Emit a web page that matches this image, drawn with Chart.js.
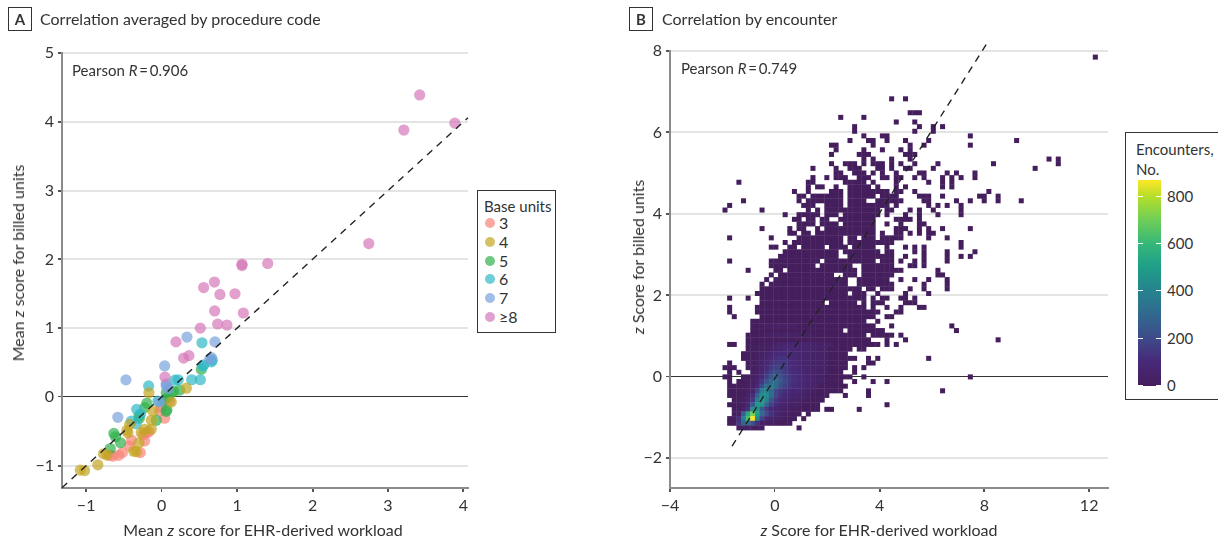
<!DOCTYPE html>
<html>
<head>
<meta charset="utf-8">
<title>Correlation of EHR-derived workload and billed units</title>
<script src="https://cdn.jsdelivr.net/npm/chart.js@4"></script>
<style>
    html, body { margin: 0; padding: 0; background: #fff; overflow: hidden; }
    body { width: 1218px; height: 541px; position: relative; font-family: Lato, "Noto Sans", sans-serif; font-size: 16px; color: #333; }
    canvas { position: absolute; top: 0; }
    .txt { position: absolute; white-space: nowrap; line-height: 1; }
    .small { font-size: 15px; }
    .mid { transform: translate(-50%, -50%); }
    .rot { transform: translate(-50%, -50%) rotate(-90deg); }
    .tag { position: absolute; top: 7px; width: 22px; height: 22px; border: 1px solid #333; text-align: center; line-height: 22px; font-weight: 700; font-size: 15px; }
    .box { position: absolute; border: 1px solid #333; background: #fff; box-sizing: border-box; }
    .dot { position: absolute; width: 10px; height: 10px; border-radius: 50%; }
</style>
</head>
<body>
<canvas id="chartA"></canvas>
<canvas id="chartB"></canvas>

<div class="tag" style="left:8px">A</div>
<div class="txt" style="left:40px;top:11px">Correlation averaged by procedure code</div>
<div class="tag" style="left:629px">B</div>
<div class="txt" style="left:662px;top:11px">Correlation by encounter</div>

<div class="txt small" style="left:72px;top:63px">Pearson <i>R</i>&thinsp;=&thinsp;0.906</div>
<div class="txt small" style="left:681px;top:61px">Pearson <i>R</i>&thinsp;=&thinsp;0.749</div>

<div class="txt mid" style="left:263px;top:530px">Mean <i>z</i> score for EHR-derived workload</div>
<div class="txt rot" style="left:18px;top:263px">Mean <i>z</i> score for billed units</div>
<div class="txt mid" style="left:879px;top:530px"><i>z</i> Score for EHR-derived workload</div>
<div class="txt rot" style="left:638px;top:257px"><i>z</i> Score for billed units</div>

<div class="box" id="unitLegend" style="left:477px;top:190px;width:79px;height:143px"></div>
<div class="box" id="barLegend" style="left:1125px;top:132px;width:100px;height:268px"></div>

<script>
// Panel A, mean z scores by procedure code as [workload, billed]
const base3 = [[-0.283,-0.81],[-0.52,-0.81],[-0.57,-0.85],[-0.645,-0.86],[-0.69,-0.85],[-0.424,-0.714],[-0.40,-0.627],[-0.225,-0.64],[-0.2,-0.52],[-0.168,-0.505],[-0.24,-0.55],[0.04,-0.31],[-0.026,-0.204],[0.106,-0.058],[0.0,-0.15]];
const base4 = [[-1.078,-1.064],[-1.02,-1.07],[-0.845,-0.987],[-0.77,-0.826],[-0.725,-0.845],[-0.335,-0.797],[-0.37,-0.79],[-0.30,-0.666],[-0.447,-0.52],[-0.46,-0.486],[-0.424,-0.40],[-0.137,-0.34],[-0.137,-0.47],[-0.225,-0.47],[-0.27,-0.52],[-0.115,-0.204],[-0.168,0.06],[0.128,-0.073],[0.328,0.127]];
const base5 = [[0.526,0.40],[0.24,0.10],[0.128,0.06],[0.062,0.06],[0.08,-0.01],[0.07,-0.19],[0.06,-0.21],[-0.07,-0.34],[-0.195,-0.09],[-0.225,-0.155],[-0.30,-0.277],[-0.295,-0.31],[-0.633,-0.53],[-0.61,-0.58],[-0.544,-0.666],[-0.68,-0.75],[0.16,0.08],[0.03,-0.05]];
const base6 = [[0.535,0.787],[0.672,0.535],[0.557,0.466],[0.398,0.25],[0.513,0.25],[0.176,0.243],[0.22,0.25],[-0.172,0.16],[-0.33,-0.18],[-0.40,-0.35],[-0.336,-0.39],[-0.28,-0.25],[-0.05,-0.06],[0.548,0.45],[0.66,0.51]];
const base7 = [[0.336,0.87],[0.707,0.80],[0.04,0.45],[0.66,0.57],[-0.473,0.248],[-0.58,-0.296],[0.637,0.55],[0.06,0.19],[-0.027,-0.07],[0.062,0.16],[0.09,0.12]];
const base8 = [[3.42,4.39],[3.21,3.88],[3.886,3.98],[2.745,2.23],[1.065,1.93],[1.065,1.91],[1.406,1.94],[0.70,1.67],[0.557,1.59],[0.773,1.49],[0.972,1.50],[0.703,1.25],[1.083,1.22],[0.743,1.06],[0.866,1.045],[0.513,1.0],[0.19,0.80],[0.362,0.60],[0.292,0.565],[0.044,0.29]];
const unitLabels = ["3", "4", "5", "6", "7", "≥8"];
const unitColors = ["rgba(248,131,119,0.7)", "rgba(195,165,34,0.7)", "rgba(48,176,76,0.7)", "rgba(48,184,198,0.7)", "rgba(119,162,219,0.7)", "rgba(212,119,184,0.7)"];
const unitXTicks = [-1, 0, 1, 2, 3, 4];
const unitYTicks = [-1, 0, 1, 2, 3, 4, 5];
const unitDiagonal = [[-1.32, -1.32], [4.06, 4.06]];

// Panel B, occupied histogram bins: one string per row (top row first), columns as runs
const binRuns = [
    "80", "", "", "", "", "", "", "", "",
    "36 39", "", "",
    "40-42",
    "25 30",
    "37 41",
    "28 42 45 47",
    "28 41 45",
    "30 34-35 53",
    "27 31-32 35 39 44 63",
    "23-24 32 40 43 53",
    "24 30 34 38 40",
    "23 29-31 39-41",
    "30 32 36 40 70 72",
    "23 26-28 30 32-34 36 38 41 46 58 72",
    "19 24 27-29 33-34 36 39-40 45 67",
    "24-25 28-30 32 34 37 42-43 48 50 54",
    "19 22 24-26 29-31 34-35 37-38 41 43 47 49 51 54",
    "3 18-19 26-30 32 37 44 47 49",
    "18 20-21 24 27-31 33 37 39 47 49",
    "15 18 23-25 27-35 37-38 41 57",
    "16-17 19-25 27-32 34-37 42-44 47 55-56 59",
    "4 16 18-25 27-30 33-38 43-44 50 53 56 59 64",
    "1 17-19 22-25 27-35 37 44 46 48 51",
    "0 8 18 20 22-33 35-36 40 42 45 51",
    "13 16-20 22-24 26-33 35 39 42 46 51",
    "15-16 18-19 21-22 25-32 37-40 42",
    "16-19 21-24 26-32 35 38 42-43",
    "8 14 16-17 20 22-32 37-39 42 44 47 53",
    "14-15 17-18 20-32 34 37-38 40 42 44-45",
    "1 10 16-25 27-28 30-32 34-38 44 48",
    "13 15-25 27-36 51",
    "10-11 14-15 17-21 23-26 28-32 35 39 41 43 51",
    "13-24 26-33 35-36 41 43 48 54",
    "12-24 27-36 39 43 48 51 53",
    "1 10-20 22-32 34-36 38 41 43 48",
    "10-19 21-27 30-36 40-41 43",
    "5 11-12 14-28 30-36 37-38 46",
    "10 12-23 26-28 30-36 46-47",
    "9 11-26 29-35 38 41 44 48",
    "8 10-26 29-36 43 48",
    "8-29 31-32 34-36 40 43 48",
    "7-26 28-30 33 39 44",
    "1 5 8-30 32 34-35 38-39 41",
    "8-21 23-28 30 32-34 39-41",
    "1 7-30 32 35 38 42-43",
    "1 7-33 37-38",
    "2 8-32 35-36",
    "6-30 33",
    "6-32 36 49",
    "6-25 27-34 50",
    "5-30 32-36 38",
    "5-31 35 39 59",
    "1-2 5-33 35 37",
    "5-27 29-30",
    "4-26",
    "4-28 31 33 44",
    "1 5-26 31-32",
    "0-2 5-26 28 30",
    "1 3 6-25 28",
    "0-1 4-27 30 53",
    "1 3-25 28 32 35",
    "1-26",
    "1-25 31 47",
    "1-22 26 31",
    "2-21",
    "1-20 35",
    "2-20 22-23 29",
    "2-16 18",
    "1-15 17",
    "1-14",
    "3-8 16"
];
// Encounters in the dense core: [row, first column, counts...]
const coreBins = [
    [58, 9, 20, 25, 30, 35, 35, 30, 25],
    [60, 9, 25, 30, 40, 45, 50, 45, 40, 35, 30, 25],
    [62, 8, 15, 20, 30, 40, 50, 60, 70, 75, 70, 65, 60, 50, 45, 40, 35, 30],
    [63, 7, 12, 18, 25, 35, 50, 65, 85, 90, 85, 75, 65, 55, 50, 40, 35, 30],
    [64, 5, 12, 15, 20, 30, 50, 75, 95, 105, 105, 95, 80, 70, 60, 50, 45, 40, 35, 30],
    [65, 5, 12, 15, 20, 35, 65, 95, 120, 130, 125, 105, 90, 75, 60, 50, 45, 40, 35, 30],
    [66, 5, 12, 18, 25, 45, 80, 120, 145, 150, 140, 115, 95, 80, 65, 55, 45, 40, 35, 30],
    [67, 5, 12, 18, 30, 60, 105, 150, 175, 170, 145, 120, 100, 85, 70, 55, 50, 40, 35, 30],
    [68, 6, 20, 40, 75, 130, 185, 215, 195, 160, 130, 110, 90, 75, 60, 50, 40, 35, 30],
    [69, 6, 25, 50, 100, 165, 240, 275, 225, 175, 145, 120, 100, 85, 65, 55, 45, 35],
    [70, 5, 15, 30, 70, 140, 230, 300, 320, 250, 190, 150, 125, 100, 85, 70, 60, 45, 35],
    [71, 5, 18, 40, 100, 200, 320, 370, 310, 225, 170, 135, 110, 90, 85, 65, 50, 40],
    [72, 4, 12, 25, 60, 180, 380, 400, 300, 200, 150, 120, 95, 75, 90, 55, 40, 30],
    [73, 4, 15, 35, 110, 280, 430, 440, 320, 190, 130, 100, 80, 60, 50, 40, 30],
    [74, 3, 10, 20, 55, 150, 380, 480, 400, 240, 150, 95, 75, 55, 45, 35, 25],
    [75, 3, 12, 30, 90, 250, 470, 470, 280, 170, 110, 75, 55, 45, 35, 25],
    [76, 3, 15, 45, 120, 450, 480, 250, 160, 100, 70, 55, 40, 30, 20],
    [77, 2, 10, 30, 280, 540, 720, 500, 300, 200, 120, 80, 50, 30, 20],
    [78, 2, 10, 120, 380, 620, 870, 420, 180, 100, 60, 40, 25, 15],
    [79, 2, 12, 150, 300, 320, 220, 120, 30, 25, 20, 12],
    [80, 3, 20, 25, 25, 20, 10, 5]
];
const lowCount = 5;
const colorStops = [[0, "#451f5c"], [100, "#482878"], [200, "#3e4a89"], [300, "#31688e"], [400, "#26828e"], [500, "#1f9e89"], [600, "#35b779"], [700, "#6ece58"], [800, "#b5de2b"], [870, "#fde725"]];
const colorTicks = [0, 200, 400, 600, 800];
const encXTicks = [-4, 0, 4, 8, 12];
const encYTicks = [-2, 0, 2, 4, 6, 8];
const encDiagonal = [[-1.63, -1.7], [8.14, 8.23]];

// Bin grid of panel B
const binStartX = -1.9, binWidthX = 0.1767;
const binStartY = 7.85, binHeightY = 0.1138;

Chart.defaults.font.family = 'Lato, "Noto Sans", sans-serif';
Chart.defaults.font.size = 16;
Chart.defaults.color = "#333";
Chart.defaults.animation = false;

function hexToRgb(hex) {
    return [1, 3, 5].map(i => parseInt(hex.substr(i, 2), 16));
}

function countColor(count) {
    for (let i = 1; i < colorStops.length; i++) {
        if (count <= colorStops[i][0]) {
            const a = hexToRgb(colorStops[i - 1][1]);
            const b = hexToRgb(colorStops[i][1]);
            const t = (count - colorStops[i - 1][0]) / (colorStops[i][0] - colorStops[i - 1][0]);
            return "rgb(" + a.map((v, k) => Math.round(v + (b[k] - v) * t)).join(",") + ")";
        }
    }
    return colorStops[colorStops.length - 1][1];
}

function toPoints(pairs) {
    return pairs.map(p => ({ x: p[0], y: p[1] }));
}

// Expand the runs and the core counts into one point per bin
function buildBins() {
    const counts = {};
    binRuns.forEach((line, row) => {
        if (!line) return;
        line.split(" ").forEach(run => {
            const ends = run.split("-").map(Number);
            const last = ends.length > 1 ? ends[1] : ends[0];
            for (let col = ends[0]; col <= last; col++) counts[row + ":" + col] = lowCount;
        });
    });
    coreBins.forEach(entry => {
        entry.slice(2).forEach((count, i) => {
            counts[entry[0] + ":" + (entry[1] + i)] = count;
        });
    });
    return Object.keys(counts).map(key => {
        const parts = key.split(":").map(Number);
        return { x: binStartX + parts[1] * binWidthX, y: binStartY - parts[0] * binHeightY, count: counts[key] };
    });
}

// Shared axis settings, sizes force the plot area onto the reference position
function axis(ticks, min, max, fit, showGrid) {
    return {
        type: "linear", min: min, max: max,
        afterBuildTicks: scale => { scale.ticks = ticks.map(v => ({ value: v })); },
        afterFit: fit,
        border: { display: true, color: "#8c8c8c", width: 2 },
        grid: {
            drawOnChartArea: showGrid,
            drawTicks: true,
            tickLength: 4,
            tickColor: "#555",
            color: ctx => ctx.tick && ctx.tick.value === 0 ? "#333" : "#e4e4e4",
            lineWidth: ctx => ctx.tick && ctx.tick.value === 0 ? 1 : 2
        },
        ticks: {
            padding: 4, maxRotation: 0, autoSkip: false, color: "#333",
            callback: v => String(v).replace("-", "\u2212")
        }
    };
}

function diagonal(pairs) {
    return {
        type: "line", data: toPoints(pairs), borderColor: "#222", borderWidth: 1.4,
        borderDash: [7, 6], pointRadius: 0, clip: false, order: 0
    };
}

function place(id, left, width) {
    const canvas = document.getElementById(id);
    canvas.style.left = left + "px";
    canvas.style.width = width + "px";
    canvas.style.height = "541px";
    canvas.width = width;
    canvas.height = 541;
    return canvas.getContext("2d");
}

const groups = [base3, base4, base5, base6, base7, base8];
// First dataset is drawn last, olive sits over the others as in the reference
const drawOrder = [1, 5, 4, 3, 2, 0];
const scatterSets = drawOrder.map((g, i) => ({
    type: "scatter", label: unitLabels[g], data: toPoints(groups[g]),
    backgroundColor: unitColors[g], pointRadius: 5.6, borderWidth: 0, pointBorderWidth: 0, order: i + 1
}));

new Chart(place("chartA", 0, 480), {
    data: { datasets: [diagonal(unitDiagonal)].concat(scatterSets) },
    options: {
        responsive: false,
        layout: { padding: { top: 53, right: 12, left: 0, bottom: 0 } },
        plugins: { legend: { display: false }, tooltip: { enabled: false } },
        scales: {
            x: axis(unitXTicks, -1.32, 4.06, s => { s.height = 53; }, false),
            y: axis(unitYTicks, -1.324, 5, s => { s.width = 62; }, true)
        }
    }
});

const bins = buildBins();
new Chart(place("chartB", 620, 498), {
    data: {
        datasets: [diagonal(encDiagonal), {
            type: "scatter", label: "Encounters", data: bins,
            pointStyle: "rect", pointRadius: 3.55, pointBorderWidth: 0,
            pointBackgroundColor: bins.map(b => countColor(b.count)), order: 1
        }]
    },
    options: {
        responsive: false,
        layout: { padding: { top: 51, right: 10, left: 0, bottom: 0 } },
        plugins: { legend: { display: false }, tooltip: { enabled: false } },
        scales: {
            x: axis(encXTicks, -4, 12.72, s => { s.height = 53; }, false),
            y: axis(encYTicks, -2.73, 8, s => { s.width = 50; }, true)
        }
    }
});

// Legend of panel A
const unitLegend = document.getElementById("unitLegend");
unitLegend.innerHTML = '<div class="txt small" style="left:6px;top:8px">Base units</div>';
const legendTops = [27, 46, 65, 83, 102, 121];
unitLabels.forEach((label, i) => {
    unitLegend.innerHTML += '<div class="dot" style="left:7px;top:' + legendTops[i] + 'px;background:' + unitColors[i] + '"></div>' +
        '<div class="txt" style="left:21px;top:' + (legendTops[i] - 3) + 'px">' + label + '</div>';
});

// Colour bar of panel B
const barLegend = document.getElementById("barLegend");
const gradient = colorStops.map(s => s[1] + " " + (s[0] / 870 * 100) + "%").join(",");
let barHtml = '<div class="txt small" style="left:10px;top:9px">Encounters,</div><div class="txt small" style="left:10px;top:29px">No.</div>' +
    '<div style="position:absolute;left:12px;top:47px;width:23px;height:206px;background:linear-gradient(to top,' + gradient + ')"></div>';
colorTicks.forEach(v => {
    const top = 47 + 206 - v / 870 * 206;
    barHtml += '<div style="position:absolute;left:12px;top:' + (top - 1) + 'px;width:5px;height:1px;background:#fff"></div>' +
        '<div style="position:absolute;left:30px;top:' + (top - 1) + 'px;width:5px;height:1px;background:#fff"></div>' +
        '<div class="txt small" style="left:41px;top:' + (top - 8) + 'px">' + v + '</div>';
});
barLegend.innerHTML = barHtml;
</script>
</body>
</html>
